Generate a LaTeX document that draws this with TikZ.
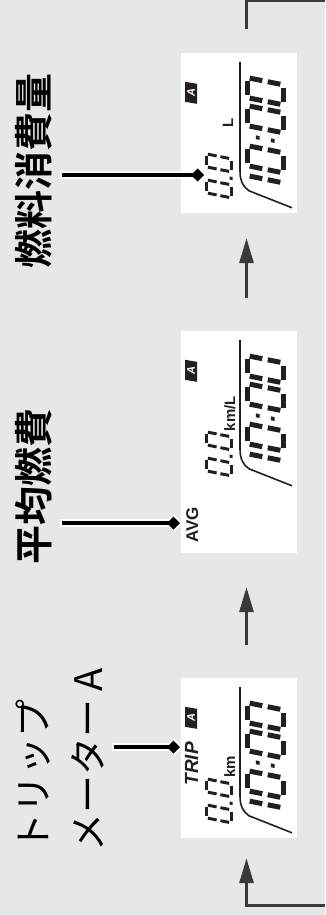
\documentclass[tikz,border=0pt]{standalone}
\usepackage{fontspec}
\usetikzlibrary{positioning, arrows.meta}
\newfontfamily\jpfont{Noto Sans CJK JP}[BoldFont={Noto Sans CJK JP Bold}]
\newfontfamily\lcdfont{Liberation Sans}
\definecolor{panel}{HTML}{E6E7E9}
\definecolor{lcdink}{HTML}{231F20}
\definecolor{flowgray}{HTML}{3A3A3A}
% seven segment pieces of one digit, unit cell 1 x 2
\def\segzero{0.15/2/0.85/2, 1/1.85/1/1.15, 1/0.85/1/0.15, 0.15/0/0.85/0, 0/0.15/0/0.85, 0/1.15/0/1.85}
\def\segone{1/1.85/1/1.15, 1/0.85/1/0.15}
\tikzset{x=1pt, y=1pt,
display/.style={ % white lcd panel
fill=white, minimum width=116pt, inner sep=0pt},
tag/.style={ % japanese labels
font=\jpfont\bfseries\fontsize{39}{41}\selectfont, rotate=90,
inner xsep=0pt, inner ysep=10pt},
flow/.style={draw=flowgray, line width=3pt, -{Triangle[length=25pt,width=14pt]}},
loopline/.style={draw=flowgray, line width=3pt},
halo/.style={draw=white, line width=8pt, shorten <=-2pt, shorten >=-2.5pt,
-{Diamond[length=17pt,width=17pt]}},
callout/.style={draw=black, line width=3.3pt, -{Diamond[length=13pt,width=13pt]}},
lcdline/.style={draw=lcdink, line width=1.6pt},
bigseg/.style={draw=lcdink, line width=5pt},
smallseg/.style={draw=lcdink, line width=3pt},
unit/.style={font=\lcdfont\bfseries\fontsize{15}{15}\selectfont, text=lcdink, inner sep=0pt},
mode/.style={font=\lcdfont\bfseries\fontsize{17}{17}\selectfont, text=lcdink, inner sep=0pt},
badge/.style={font=\lcdfont\bfseries\itshape\fontsize{11}{11}\selectfont, text=white, inner sep=0pt},
lcd face/.pic={
  \draw[lcdline] (-9,-1) -- (-118,-1) .. controls (-128,-1) and (-134,-4) .. (-138,-10) -- (-155,-53);
  % clock 10:00
  \begin{scope}[shift={(-134,-44)}, xslant=0.2, xscale=20, yscale=18]
    \foreach \xa/\ya/\xb/\yb in \segone
      \draw[bigseg] (\xa-0.8,\ya) -- (\xb-0.8,\yb);
    \foreach \cell in {0.7,2.7,4.1}
      \foreach \xa/\ya/\xb/\yb in \segzero
        \draw[bigseg] (\xa+\cell,\ya) -- (\xb+\cell,\yb);
    \fill[lcdink] (2.11,0.46) rectangle ++(0.19,0.21);
    \fill[lcdink] (2.11,1.30) rectangle ++(0.19,0.21);
  \end{scope}
  % reading 0.0
  \begin{scope}[shift={(-145,8)}, xslant=0.2, xscale=13, yscale=12.5]
    \foreach \cell in {0,2}
      \foreach \xa/\ya/\xb/\yb in \segzero
        \draw[smallseg] (\xa+\cell,\ya) -- (\xb+\cell,\yb);
    \fill[lcdink] (1.38,-0.12) rectangle (1.62,0.12);
  \end{scope}
  \fill[lcdink] (-51,42) -- (-31,42) -- (-29,54) -- (-49,54) -- cycle;
  \node[badge] (badge) at (-40,48) {A};
}}

\begin{document}
\begin{tikzpicture}
    
    \fill[panel] (0,0) rectangle (325,-915);
    \useasboundingbox (0,0) rectangle (325,-915);
    
    \node[display, minimum height=160pt] (fuel) at (239,-133) {};
    \node[display, minimum height=222pt] (avg) at (239,-442) {};
    \node[display, minimum height=160pt] (trip) at (239,-758) {};
    
    \begin{scope}[shift={(fuel.north)}, rotate=90, transform shape]
    \pic (ffuel) {lcd face};
    \node[unit, anchor=base] (unitl) at (-70,6) {L};
    \end{scope}
    
    \begin{scope}[shift={(avg.north)}, rotate=90, transform shape]
    \pic (favg) {lcd face};
    \node[unit, anchor=base] (unitkml) at (-83,4) {km/L};
    \node[mode, anchor=base] (avgtext) at (-194,41) {AVG};
    \end{scope}
    
    \begin{scope}[shift={(trip.north)}, rotate=90, transform shape]
    \pic (ftrip) {lcd face};
    \node[unit, anchor=base] (unitkm) at (-89,4) {km};
    \node[mode, anchor=base, font=\lcdfont\bfseries\itshape\fontsize{19}{19}\selectfont] (triptext) at (-86,41) {TRIP};
    \end{scope}
    
    % cycle of the three displays
    \draw[flow, shorten <=33pt, shorten >=25pt] ([xshift=7.5pt]avg.north) -- ([xshift=7.5pt]fuel.south);
    \draw[flow, shorten <=33pt, shorten >=34pt] ([xshift=7.5pt]trip.north) -- ([xshift=7.5pt]avg.south);
    \coordinate (loopin) at (325,-905);
    \coordinate (loopout) at (325,-1);
    \draw[flow, shorten >=20pt] (loopin) -| ([xshift=7.5pt]trip.south);
    \draw[loopline] ([xshift=7.5pt,yshift=24pt]fuel.north) |- (loopout);
    
    % labels
    \node[tag] (lfuel) at (33.5,-171) {燃料消費量};
    \node[tag] (lavg) at (33.5,-486.5) {平均燃費};
    \node[tag, font=\jpfont\fontsize{38}{55}\selectfont, align=left, anchor=west] (ltrip) at (60,-852) {トリップ\\メーター A};
    
    \coordinate (pfuel) at (204,-175);
    \coordinate (pavg) at (180,-523);
    \coordinate (ptrip) at (180,-747);
    \foreach \l/\p in {lfuel/pfuel, lavg/pavg, ltrip/ptrip} {
      \draw[halo] (\l.south |- \p) -- (\p);
      \draw[callout] (\l.south |- \p) -- (\p);
    }
    
\end{tikzpicture}
\end{document}
